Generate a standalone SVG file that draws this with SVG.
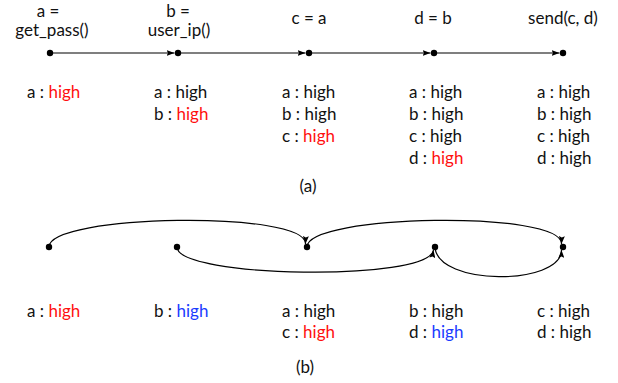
<svg xmlns="http://www.w3.org/2000/svg" width="618" height="383" viewBox="0 0 618 383">
<style>
text{font-family:Lato,"Open Sans","Liberation Sans",sans-serif;font-size:17px;fill:#111}
.r{fill:#ff1010}
.b{fill:#1a3cff}
.c{text-anchor:middle}
.e{fill:none;stroke:#000;stroke-width:1.2;marker-end:url(#ah)}
.n{fill:#000}
</style>
<defs>
<marker id="ah" viewBox="0 0 8 6" refX="8" refY="3" markerWidth="8" markerHeight="6" markerUnits="userSpaceOnUse" orient="auto">
<path d="M0,0 L8,3 L0,6 L1.5,3 Z" fill="#000"/>
</marker>
</defs>
<g id="connectors">
<line class="e" x1="50" y1="53" x2="174.5" y2="53"/>
<line class="e" x1="178" y1="53" x2="305.5" y2="53"/>
<line class="e" x1="309" y1="53" x2="430.5" y2="53"/>
<line class="e" x1="434" y1="53" x2="559.5" y2="53"/>
<path class="e" d="M49,247 C49,214 307,210 305.5,244"/>
<path class="e" d="M177,247 C177,278 429,282 433.5,250"/>
<path class="e" d="M307,247 C307,214 563,210 561.5,244"/>
<path class="e" d="M435,247 C437,286 561,286 561.5,250"/>
</g>
<g id="a1"><circle class="n" cx="50" cy="53" r="3.2"/><text class="c" x="48" y="17">a =</text><text class="c" x="52" y="36">get_pass()</text>
<text x="27" y="98">a : <tspan class="r">high</tspan></text></g>
<g id="a2"><circle class="n" cx="178" cy="53" r="3.2"/><text class="c" x="178" y="17">b =</text><text class="c" x="179" y="36">user_ip()</text>
<text x="154" y="98">a : high</text><text x="154" y="120">b : <tspan class="r">high</tspan></text></g>
<g id="a3"><circle class="n" cx="309" cy="53" r="3.2"/><text class="c" x="309" y="24">c = a</text>
<text x="282" y="98">a : high</text><text x="282" y="120">b : high</text><text x="282" y="142">c : <tspan class="r">high</tspan></text></g>
<g id="a4"><circle class="n" cx="434" cy="53" r="3.2"/><text class="c" x="433" y="24">d = b</text>
<text x="409" y="98">a : high</text><text x="409" y="120">b : high</text><text x="409" y="142">c : high</text><text x="409" y="164">d : <tspan class="r">high</tspan></text></g>
<g id="a5"><circle class="n" cx="563" cy="53" r="3.2"/><text class="c" x="563" y="24">send(c, d)</text>
<text x="537" y="98">a : high</text><text x="537" y="120">b : high</text><text x="537" y="142">c : high</text><text x="537" y="164">d : high</text></g>
<text class="c" x="308" y="192">(a)</text>
<g id="b1"><circle class="n" cx="49" cy="247" r="3.2"/><text x="27" y="317">a : <tspan class="r">high</tspan></text></g>
<g id="b2"><circle class="n" cx="177" cy="247" r="3.2"/><text x="154" y="317">b : <tspan class="b">high</tspan></text></g>
<g id="b3"><circle class="n" cx="307" cy="247" r="3.2"/><text x="282" y="317">a : high</text><text x="282" y="338">c : <tspan class="r">high</tspan></text></g>
<g id="b4"><circle class="n" cx="435" cy="247" r="3.2"/><text x="409" y="317">b : high</text><text x="409" y="338">d : <tspan class="b">high</tspan></text></g>
<g id="b5"><circle class="n" cx="563" cy="247" r="3.2"/><text x="537" y="317">c : high</text><text x="537" y="338">d : high</text></g>
<text class="c" x="305" y="373">(b)</text>
</svg>
